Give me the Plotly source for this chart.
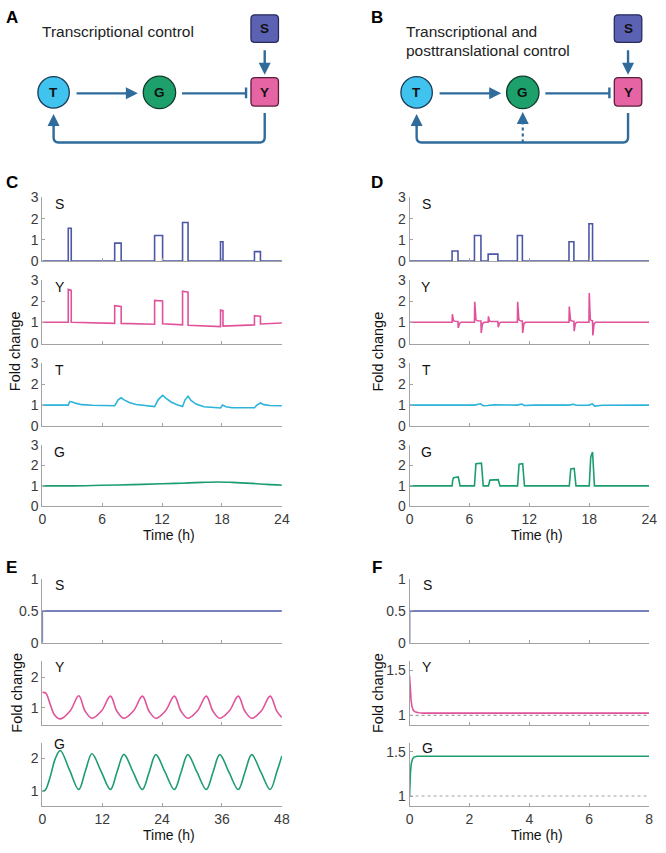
import plotly.graph_objects as go

W, H = 666, 853

# ---------------- data ----------------
# Panel C (transcriptional control, pulsed S)
c_s_t = [0, 2.6, 2.9, 7.25, 7.9, 11.25, 12.05, 14.05, 14.6, 17.85, 18.1, 21.25, 21.85, 24]
c_s_v = [0, 1.55, 0, 0.85, 0, 1.21, 0, 1.82, 0, 0.91, 0, 0.45, 0, 0]
c_y_t = [0, 2.6, 2.6, 2.9, 2.9, 5, 7.25, 7.25, 7.9, 7.9, 9.5, 11.25, 11.25, 12.05, 12.05,
         14.05, 14.05, 14.6, 14.6, 16, 17.85, 17.85, 18.1, 18.1, 19.5, 21.25, 21.25, 21.85, 21.85, 23, 24]
c_y_v = [1.0, 1.0, 2.55, 2.5, 1.0, 0.97, 0.95, 1.78, 1.75, 0.95, 0.93, 0.91, 2.03, 2.0, 0.93,
         0.88, 2.46, 2.42, 0.86, 0.82, 0.80, 1.58, 1.55, 0.82, 0.84, 0.88, 1.31, 1.29, 0.92, 0.95, 0.97]
c_t_t = [0, 2.6, 2.75, 3.0, 3.4, 4.0, 5.0, 7.25, 7.6, 7.9, 8.2, 8.7, 9.4, 10.3, 11.25, 11.6, 12.05,
         12.4, 12.9, 13.5, 14.05, 14.3, 14.6, 14.9, 15.4, 16.2, 17.0, 17.85, 18.05, 18.4, 19.0, 20.0,
         21.25, 21.5, 21.85, 22.2, 22.8, 24]
c_t_v = [1.0, 1.0, 1.17, 1.15, 1.08, 1.02, 0.99, 0.97, 1.25, 1.35, 1.25, 1.12, 1.03, 0.97, 0.93, 1.25, 1.47,
         1.32, 1.15, 1.02, 0.93, 1.25, 1.42, 1.22, 1.05, 0.92, 0.88, 0.86, 1.0, 0.92, 0.87, 0.86,
         0.87, 1.0, 1.1, 1.02, 0.98, 0.97]
c_g_t = [0, 3, 6, 9, 12, 14, 16, 17.5, 19, 21, 22.5, 24]
c_g_v = [1.0, 1.0, 1.03, 1.06, 1.1, 1.13, 1.17, 1.19, 1.17, 1.12, 1.07, 1.03]

# Panel D (transcriptional + posttranslational control, pulsed S)
d_s_t = [0, 4.26, 4.85, 6.5, 7.15, 7.87, 8.85, 10.8, 11.3, 15.97, 16.46, 17.97, 18.33, 24]
d_s_v = [0, 0.48, 0, 1.21, 0, 0.33, 0, 1.21, 0, 0.91, 0, 1.76, 0, 0]
d_y_t = [0, 4.26, 4.29, 4.4, 4.55, 4.85, 4.88, 5.0, 5.15,
         6.5, 6.53, 6.65, 6.8, 7.15, 7.18, 7.3, 7.45,
         7.87, 7.9, 8.0, 8.15, 8.85, 8.88, 9.0, 9.15,
         10.8, 10.83, 10.95, 11.1, 11.3, 11.33, 11.45, 11.6,
         15.97, 16.0, 16.12, 16.27, 16.46, 16.49, 16.6, 16.75,
         17.97, 18.0, 18.1, 18.2, 18.33, 18.36, 18.48, 18.63, 24]
d_y_v = [1, 1, 1.38, 1.08, 1.05, 1.04, 0.74, 0.95, 1.0,
         1, 1.97, 1.12, 1.07, 1.06, 0.5, 0.93, 1.0,
         1, 1.28, 1.06, 1.04, 1.04, 0.77, 0.96, 1.0,
         1, 1.97, 1.12, 1.07, 1.06, 0.5, 0.93, 1.0,
         1, 1.74, 1.1, 1.06, 1.05, 0.58, 0.94, 1.0,
         1, 2.38, 1.15, 1.08, 1.07, 0.38, 0.92, 1.0, 1.0]
d_t_t = [0, 4.3, 4.8, 5.1, 6.5, 7.1, 7.4, 7.8, 8.5, 10.8, 11.25, 11.5, 12.5,
         15.97, 16.4, 16.7, 17.97, 18.3, 18.55, 19.3, 24]
d_t_v = [1.0, 1.0, 1.02, 1.0, 1.0, 1.06, 0.97, 0.98, 1.01, 1.0, 1.05, 0.98, 1.0,
         1.0, 1.04, 0.99, 1.0, 1.06, 0.95, 0.99, 1.0]
d_g_t = [0, 4.26, 4.32, 4.41, 4.88, 4.95, 5.06,
         6.5, 6.56, 6.65, 7.2, 7.27, 7.38,
         7.9, 7.96, 8.05, 8.88, 8.95, 9.06,
         10.82, 10.88, 10.97, 11.33, 11.4, 11.51,
         16.0, 16.06, 16.15, 16.49, 16.56, 16.67,
         18.0, 18.06, 18.15, 18.33, 18.4, 18.52, 24]
d_g_v = [1.0, 1.0, 1.26, 1.40, 1.43, 1.26, 1.0,
         1.0, 1.66, 2.07, 2.1, 1.66, 1.0,
         1.0, 1.18, 1.28, 1.3, 1.18, 1.0,
         1.0, 1.65, 2.05, 2.08, 1.65, 1.0,
         1.0, 1.5, 1.82, 1.85, 1.5, 1.0,
         1.0, 1.8, 2.4, 2.64, 1.9, 1.0, 1.0]

# Panel E (transcriptional control, constant S) -- 48 h
e_s_t = [0, 0, 48]
e_s_v = [0, 0.5, 0.5]
e_y_t = [0, 0.7, 1.6, 2.5, 3.6, 5.6, 7.3, 8.6, 9.95, 11.9, 13.65, 14.95, 16.35, 18.3, 20.05, 21.4,
         22.75, 24.7, 26.45, 27.8, 29.15, 31.1, 32.85, 34.2, 35.55, 37.5, 39.25, 40.6, 41.95,
         43.9, 45.65, 47.0, 48]
e_y_v = [1.5, 1.48, 1.1, 0.75, 0.63, 0.9, 1.39, 0.88, 0.65, 0.9, 1.38, 0.88, 0.65, 0.9, 1.38, 0.88,
         0.65, 0.9, 1.38, 0.88, 0.65, 0.9, 1.38, 0.88, 0.65, 0.9, 1.38, 0.88, 0.65,
         0.9, 1.38, 0.88, 0.68]
e_g_t = [0, 0.6, 1.6, 2.6, 3.6, 5.45, 7.3, 8.6, 9.95, 11.8, 13.65, 14.95, 16.35, 18.2, 20.05, 21.4,
         22.75, 24.6, 26.45, 27.8, 29.15, 31.0, 32.85, 34.2, 35.55, 37.4, 39.25, 40.6, 41.95,
         43.8, 45.65, 47.0, 48]
e_g_v = [1.0, 1.03, 1.45, 2.0, 2.25, 1.65, 1.05, 1.6, 2.15, 1.6, 1.05, 1.58, 2.13, 1.58, 1.05, 1.58,
         2.12, 1.58, 1.05, 1.58, 2.12, 1.58, 1.05, 1.58, 2.12, 1.58, 1.05, 1.58, 2.12,
         1.58, 1.05, 1.6, 2.08]

# Panel F (transcriptional + posttranslational control, constant S) -- 8 h
f_s_t = [0, 0, 8]
f_s_v = [0, 0.5, 0.5]
f_y_t = [0, 0.02, 0.05, 0.08, 0.12, 0.18, 0.3, 0.5, 8]
f_y_v = [1.44, 1.3, 1.17, 1.1, 1.06, 1.04, 1.03, 1.025, 1.025]
f_g_t = [0, 0.01, 0.03, 0.06, 0.1, 0.15, 0.25, 8]
f_g_v = [1.0, 1.12, 1.27, 1.37, 1.42, 1.44, 1.45, 1.45]
f_ref_t = [0, 8]
f_ref_v = [1, 1]

# tick labels
ticks_24 = [0, 6, 12, 18, 24]
ticks_48 = [0, 12, 24, 36, 48]
ticks_8 = [0, 2, 4, 6, 8]
ticks_03 = [0, 1, 2, 3]

# ---------------- styling ----------------
COL_S = '#4c58a6'
COL_Y = '#e0539b'
COL_T = '#2bb3da'
COL_G = '#1c9d6d'
AX_COL = '#a3a3a3'
TXT = '#3a3a3a'
FONT = 'Liberation Sans, Arial, sans-serif'
ARROW = '#2f6b9b'


def px(x):
    return x / W


def py(y):
    return 1 - y / H


fig = go.Figure()
layout = dict(width=W, height=H, autosize=False, margin=dict(l=0, r=0, t=0, b=0),
              paper_bgcolor='white', plot_bgcolor='white', showlegend=False,
              font=dict(family=FONT, color='#222'))
annotations = []
shapes = []


def fmt(v):
    return ('%g' % v)


def add_axes(idx, xpx, ypx, xr, yr, xt, yt, show_xlabels):
    xn = 'xaxis' if idx == 1 else 'xaxis%d' % idx
    yn = 'yaxis' if idx == 1 else 'yaxis%d' % idx
    xs = 'x' if idx == 1 else 'x%d' % idx
    ys = 'y' if idx == 1 else 'y%d' % idx
    layout[xn] = dict(domain=[px(xpx[0]), px(xpx[1])], range=xr, anchor=ys,
                      showline=True, linecolor=AX_COL, linewidth=1, ticks='inside', ticklen=3,
                      tickcolor=AX_COL, tickvals=xt, ticktext=[fmt(v) for v in xt],
                      showticklabels=show_xlabels, showgrid=False, zeroline=False,
                      ticklabeloverflow='allow',
                      tickfont=dict(size=14, color=TXT, family=FONT), fixedrange=True)
    layout[yn] = dict(domain=[py(ypx[1]), py(ypx[0])], range=yr, anchor=xs,
                      showline=True, linecolor=AX_COL, linewidth=1, ticks='inside', ticklen=3,
                      tickcolor=AX_COL, tickvals=yt, ticktext=[fmt(v) for v in yt],
                      showgrid=False, zeroline=False, ticklabeloverflow='allow',
                      tickfont=dict(size=14, color=TXT, family=FONT), fixedrange=True)
    return xs, ys


def line(xs, ys, t, v, color, shape='linear', dash='solid', width=1.6):
    fig.add_trace(go.Scatter(x=t, y=v, mode='lines', xaxis=xs, yaxis=ys, hoverinfo='skip',
                             line=dict(color=color, width=width, shape=shape, dash=dash)))


def text(x, y, s, size=14, bold=False, color='#111', angle=0, xanchor='center'):
    annotations.append(dict(x=px(x), y=py(y), xref='paper', yref='paper', text=('<b>%s</b>' % s) if bold else s,
                            showarrow=False, font=dict(size=size, color=color, family=FONT),
                            textangle=angle, xanchor=xanchor, yanchor='middle'))


CX = (39, 283)
DX = (413, 657)
rows4 = [(193, 258), (277, 342), (362, 426), (445, 508)]
rows3 = [(582, 647), (665, 731), (749, 813)]

idx = 1
# Panel C
series_c = [(c_s_t, c_s_v, COL_S, 'hv', 'S'), (c_y_t, c_y_v, COL_Y, 'linear', 'Y'),
            (c_t_t, c_t_v, COL_T, 'linear', 'T'), (c_g_t, c_g_v, COL_G, 'spline', 'G')]
for k, (t, v, col, shp, lab) in enumerate(series_c):
    xs, ys = add_axes(idx, CX, rows4[k], [0, 24], [0, 3], ticks_24, ticks_03, k == 3)
    line(xs, ys, t, v, col, shp)
    text(57, rows4[k][0] + 7, lab)
    idx += 1
series_d = [(d_s_t, d_s_v, COL_S, 'hv', 'S'), (d_y_t, d_y_v, COL_Y, 'linear', 'Y'),
            (d_t_t, d_t_v, COL_T, 'linear', 'T'), (d_g_t, d_g_v, COL_G, 'linear', 'G')]
for k, (t, v, col, shp, lab) in enumerate(series_d):
    xs, ys = add_axes(idx, DX, rows4[k], [0, 24], [0, 3], ticks_24, ticks_03, k == 3)
    line(xs, ys, t, v, col, shp)
    text(430, rows4[k][0] + 7, lab)
    idx += 1

# Panel E
e_specs = [(e_s_t, e_s_v, COL_S, 'linear', 'S', [0, 1], [0, 0.5, 1], 588),
           (e_y_t, e_y_v, COL_Y, 'spline', 'Y', [0.42, 2.55], [1, 2], 672),
           (e_g_t, e_g_v, COL_G, 'spline', 'G', [0.55, 2.48], [1, 2], 750)]
for k, (t, v, col, shp, lab, yr, yt, ly) in enumerate(e_specs):
    xs, ys = add_axes(idx, CX, rows3[k], [0, 48], yr, ticks_48, yt, k == 2)
    line(xs, ys, t, v, col, shp)
    text(57, ly, lab)
    idx += 1

# Panel F
f_specs = [(f_s_t, f_s_v, COL_S, 'S', [0, 1], [0, 0.5, 1], 588, False),
           (f_y_t, f_y_v, COL_Y, 'Y', [0.89, 1.61], [1, 1.5], 672, True),
           (f_g_t, f_g_v, COL_G, 'G', [0.89, 1.6], [1, 1.5], 754, True)]
for k, (t, v, col, lab, yr, yt, ly, ref) in enumerate(f_specs):
    xs, ys = add_axes(idx, DX, rows3[k], [0, 8], yr, ticks_8, yt, k == 2)
    if ref:
        line(xs, ys, f_ref_t, f_ref_v, '#a0a0a0', 'linear', dash='3px,3px', width=1.2)
    line(xs, ys, t, v, col, 'linear')
    text(431, ly, lab)
    idx += 1

# axis titles
for cx, cy in [(12, 350), (381, 350), (13, 698), (381, 698)]:
    text(cx, cy, 'Fold change', size=14.5, color='#111', angle=-90)
for cx, cy in [(168, 537), (543, 537), (168, 843), (543, 843)]:
    text(cx, cy, 'Time (h)', size=14, color='#111')

# panel letters
for s, x, y in [('A', 8, 10), ('B', 380, 10), ('C', 8, 178), ('D', 380, 178), ('E', 8, 570), ('F', 380, 570)]:
    text(x, y, s, size=17, bold=True, color='#000')


# ---------------- schematic diagrams ----------------
def rrect(x0, y0, x1, y1, r, fill, outline):
    p = 'M %f,%f L %f,%f Q %f,%f %f,%f L %f,%f Q %f,%f %f,%f L %f,%f Q %f,%f %f,%f L %f,%f Q %f,%f %f,%f Z' % (
        px(x0 + r), py(y0), px(x1 - r), py(y0), px(x1), py(y0), px(x1), py(y0 + r),
        px(x1), py(y1 - r), px(x1), py(y1), px(x1 - r), py(y1),
        px(x0 + r), py(y1), px(x0), py(y1), px(x0), py(y1 - r),
        px(x0), py(y0 + r), px(x0), py(y0), px(x0 + r), py(y0))
    shapes.append(dict(type='path', path=p, xref='paper', yref='paper', fillcolor=fill,
                       line=dict(color=outline, width=1.3)))


def circle(cx, cy, r, fill, outline):
    shapes.append(dict(type='circle', xref='paper', yref='paper', x0=px(cx - r), x1=px(cx + r),
                       y0=py(cy + r), y1=py(cy - r), fillcolor=fill, line=dict(color=outline, width=1.3)))


def seg(x0, y0, x1, y1, dash='solid', width=2.4):
    shapes.append(dict(type='line', xref='paper', yref='paper', x0=px(x0), y0=py(y0), x1=px(x1), y1=py(y1),
                       line=dict(color=ARROW, width=width, dash=dash)))


def arrow(tx, ty, hx, hy):
    annotations.append(dict(x=px(hx), y=py(hy), xref='paper', yref='paper', ax=tx - hx, ay=ty - hy,
                            axref='pixel', ayref='pixel', showarrow=True, arrowhead=2, arrowsize=1,
                            arrowwidth=2.4, arrowcolor=ARROW, text=''))


def feedback(xy, xt, ybot, ytip):
    r = 5
    p = 'M %f,%f L %f,%f Q %f,%f %f,%f L %f,%f Q %f,%f %f,%f L %f,%f' % (
        px(xy), py(107), px(xy), py(ybot - r), px(xy), py(ybot), px(xy - r), py(ybot),
        px(xt + r), py(ybot), px(xt), py(ybot), px(xt), py(ybot - r), px(xt), py(ytip + 8))
    shapes.append(dict(type='path', path=p, xref='paper', yref='paper', line=dict(color=ARROW, width=2.4)))
    arrow(xt, ytip + 14, xt, ytip)


def diagram(tx, gx, yx, title_lines, title_x, dotted):
    cy = 86
    arrow(yx, 42, yx, 68)
    arrow(tx + 23, cy + 1, gx - 22, cy + 1)
    seg(gx + 23, cy + 1, yx - 19, cy + 1)
    seg(yx - 19, cy - 5, yx - 19, cy + 6)
    feedback(yx, tx, 137, 108)
    if dotted:
        seg(gx, 137, gx, 116, dash='dot', width=2.2)
        arrow(gx, 118, gx, 106)
    rrect(yx - 14, 7, yx + 14, 35, 4, '#5c62b3', '#262a5c')
    rrect(yx - 14, 71, yx + 14, 100, 4, '#e663a4', '#5a1e3c')
    circle(tx, cy, 16, '#41c3ef', '#173a56')
    circle(gx, cy, 16.5, '#1da06c', '#0f3b2a')
    for s, x, y in [('S', yx, 21), ('Y', yx, 86), ('T', tx, cy), ('G', gx, cy)]:
        text(x, y, s, size=13.5, bold=True, color='#111')
    for i, s in enumerate(title_lines):
        text(title_x, 24 + i * 19, s, size=15.5, color='#222', xanchor='left')


diagram(50.5, 158.3, 265.5, ['Transcriptional control'], 37, False)
diagram(420.2, 528.3, 635.5, ['Transcriptional and', 'posttranslational control'], 407, True)

layout['annotations'] = annotations
layout['shapes'] = shapes
fig.update_layout(**layout)
fig.write_html('out.html', config={'displayModeBar': False},
               post_script="document.body.style.margin='0px';")
